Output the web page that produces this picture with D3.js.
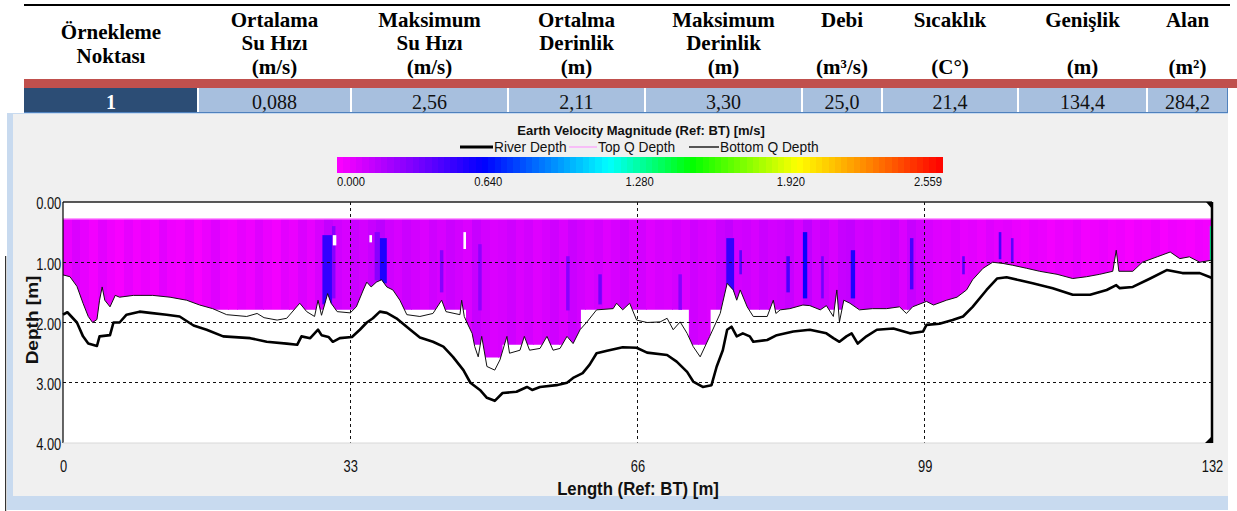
<!DOCTYPE html>
<html><head><meta charset="utf-8">
<script src="https://cdn.jsdelivr.net/npm/d3@7"></script>
<style>body{margin:0;background:#fff;overflow:hidden}svg{display:block}</style>
</head><body><svg id="c" width="1237" height="511"></svg>
<script>
// ---------------- DATA ----------------
const tableHeaders = [
  ["Örnekleme","Noktası"],
  ["Ortalama","Su Hızı","(m/s)"],
  ["Maksimum","Su Hızı","(m/s)"],
  ["Ortalma","Derinlik","(m)"],
  ["Maksimum","Derinlik","(m)"],
  ["Debi","","(m³/s)"],
  ["Sıcaklık","","(C°)"],
  ["Genişlik","","(m)"],
  ["Alan","","(m²)"]
];
const tableValues = ["1","0,088","2,56","2,11","3,30","25,0","21,4","134,4","284,2"];

const chartTitle = "Earth Velocity Magnitude (Ref: BT) [m/s]";
const legendLabels = ["River Depth","Top Q Depth","Bottom Q Depth"];
const xTicks = [0,33,66,99,132];
const yTicks = [0,1,2,3,4];
const colorbarTicks = [0,0.640,1.280,1.920,2.559];
const colorStopValues = [0,0.32,0.62,1.15,1.5,1.95,2.2,2.559];
const colorStopColors = ["#ff00ff","#8000ff","#0000ff","#00ffff","#00ff00","#ffff00","#ff9900","#ff0000"];

// River depth (thick line) [length m, depth m]
const riverDepth = [[0,1.87],[0.5,1.83],[1.6,2.0],[2.3,2.23],[2.9,2.35],[3.9,2.39],[4.2,2.23],[5.4,2.21],[5.8,2.0],[6.5,2.0],[7.3,1.87],[8.8,1.82],[10,1.84],[11.9,1.87],[13.4,1.9],[15,2.05],[16.5,2.12],[18.4,2.23],[21.5,2.26],[23.4,2.32],[25.7,2.35],[26.9,2.37],[27.4,2.23],[28.4,2.26],[29.3,2.12],[29.7,2.21],[30.5,2.24],[31,2.32],[31.8,2.26],[33.2,2.24],[34.1,2.12],[34.9,2.0],[35.6,1.93],[36.4,1.82],[37.2,1.84],[38.3,1.93],[39.9,2.12],[41,2.25],[42.5,2.32],[43.7,2.4],[44.8,2.57],[46,2.79],[46.8,3.0],[47.9,3.12],[48.7,3.25],[49.6,3.3],[50.5,3.17],[52.1,3.15],[53.3,3.07],[53.9,3.12],[54.8,3.07],[56.7,3.04],[57.9,3.0],[58.6,2.92],[59.7,2.84],[60.5,2.7],[61.3,2.51],[62.5,2.47],[64.3,2.41],[65.9,2.42],[67.1,2.5],[69.4,2.54],[70.5,2.65],[71.7,2.82],[72.4,2.98],[73.5,3.07],[74.5,3.04],[75.1,2.73],[75.8,2.46],[76.3,2.12],[76.8,2.07],[77.4,2.23],[78.1,2.18],[78.9,2.23],[79.3,2.32],[80.9,2.29],[82,2.21],[83.9,2.15],[85.8,2.12],[87.7,2.18],[88.5,2.26],[89.2,2.32],[90,2.23],[90.6,2.18],[91.3,2.35],[92.3,2.23],[93.5,2.12],[95.4,2.1],[97.3,2.18],[98.8,2.15],[99.2,2.04],[100.7,2.02],[102.2,1.96],[103.4,1.9],[104.5,1.74],[106.1,1.46],[107.3,1.27],[108.4,1.25],[109.9,1.3],[111.4,1.35],[113.7,1.43],[116,1.54],[118,1.54],[119.9,1.46],[121,1.38],[121.4,1.43],[122.9,1.41],[124.9,1.27],[126.8,1.13],[128.6,1.18],[130.6,1.18],[131.8,1.25],[132,1.26]];

// Bottom Q depth (thin line)
const bottomQDepth = [[0,1.21],[0.8,1.24],[1.6,1.4],[2.3,1.68],[2.9,1.9],[3.4,2.0],[3.9,1.95],[4.2,1.63],[4.5,1.41],[4.8,1.63],[5.4,1.74],[6.0,1.55],[6.5,1.58],[8.1,1.55],[10.3,1.55],[12.3,1.58],[14.2,1.63],[15.7,1.71],[17.2,1.77],[18.8,1.87],[21.1,1.9],[22.3,1.85],[23.1,1.92],[24.6,1.96],[25.7,1.93],[27.2,1.68],[28.0,1.82],[28.9,1.9],[29.3,1.63],[29.7,1.88],[30.1,1.68],[30.4,1.52],[30.8,1.68],[31.5,1.82],[33.0,1.84],[33.7,1.74],[34.5,1.46],[34.9,1.33],[35.4,1.41],[36.0,1.33],[36.6,1.29],[37.2,1.41],[37.9,1.46],[38.7,1.63],[39.5,1.87],[41.0,1.9],[42.5,1.85],[43.5,1.63],[44.0,1.82],[45.6,1.87],[45.8,1.63],[46.1,1.9],[46.4,2.0],[47.0,2.18],[47.3,2.4],[47.7,2.57],[48.1,2.23],[48.7,2.73],[49.6,2.79],[50.2,2.62],[51.0,2.23],[51.3,2.51],[52.5,2.46],[53.0,2.23],[53.6,2.46],[54.8,2.43],[55.6,2.23],[56.3,2.46],[57.1,2.43],[57.9,2.23],[58.6,2.35],[59.4,2.12],[60.2,1.99],[61.3,1.79],[63.2,1.77],[63.6,1.68],[64.3,1.79],[65.1,1.68],[65.9,1.96],[67.1,2.0],[68.6,1.99],[69.4,1.93],[70.1,2.12],[70.9,1.99],[71.7,2.18],[72.4,2.4],[73.2,2.57],[74.3,2.23],[75.5,1.85],[76.3,1.35],[77.0,1.46],[77.4,1.63],[77.8,1.46],[78.6,1.74],[79.3,1.9],[80.9,1.9],[81.6,1.63],[81.9,1.85],[82.4,1.79],[83.5,1.77],[85.0,1.71],[85.8,1.72],[87.0,1.79],[87.7,1.72],[88.5,1.9],[88.9,1.46],[89.2,1.99],[89.7,1.63],[90.4,1.68],[91.5,1.79],[93.0,1.77],[94.6,1.77],[96.1,1.74],[96.9,1.85],[97.6,1.74],[99.2,1.65],[100.0,1.71],[101.5,1.63],[102.7,1.58],[103.8,1.46],[104.5,1.29],[105.7,1.1],[106.8,1.0],[108.0,1.02],[109.1,1.05],[110.7,1.1],[112.2,1.15],[114.2,1.2],[116.0,1.27],[117.6,1.24],[119.1,1.2],[120.6,1.15],[121.0,0.8],[121.3,1.15],[122.9,1.15],[124.0,1.0],[125.7,0.91],[127.2,0.83],[128.3,0.94],[129.4,0.91],[130.6,1.0],[131.8,0.97],[132,0.97]];

// Top Q depth (pink line)
const topQDepth = [[0,0.28],[132,0.28]];
// First measured bin depth
const firstBinDepth = 0.29;
// Deepest valid bin (step) [from length, depth]
const lastBinDepth = [[0,2.02],[4.3,1.79],[46.3,2.37],[48.2,2.58],[50.5,2.37],[59.5,1.79],[71.9,2.37],[74.4,1.79],[132,1.79]];

// Velocity per 1 m ensemble column (m/s)
const columnVelocity = [
  0.05,0.09,0.06,0.03,0.07,0.04,0.02,0.06,0.03,0.05,
  0.03,0.07,0.04,0.03,0.06,0.02,0.05,0.08,0.04,0.03,
  0.06,0.04,0.08,0.05,0.03,0.07,0.05,0.09,0.06,0.10,
  0.15,0.12,0.10,0.13,0.11,0.14,0.17,0.12,0.10,0.13,
  0.11,0.09,0.12,0.10,0.13,0.11,0.09,0.14,0.11,0.09,
  0.10,0.12,0.09,0.11,0.08,0.10,0.12,0.09,0.13,0.11,
  0.09,0.11,0.08,0.10,0.12,0.09,0.11,0.08,0.10,0.09,
  0.11,0.09,0.12,0.10,0.09,0.13,0.15,0.11,0.12,0.10,
  0.13,0.11,0.12,0.14,0.10,0.16,0.11,0.13,0.10,0.14,
  0.15,0.11,0.12,0.10,0.11,0.13,0.09,0.14,0.11,0.10,
  0.08,0.07,0.09,0.06,0.07,0.05,0.08,0.06,0.07,0.05,
  0.04,0.06,0.05,0.03,0.05,0.04,0.06,0.03,0.04,0.05,
  0.03,0.04,0.02,0.04,0.03,0.05,0.02,0.04,0.03,0.02,0.04,0.03
];
// Faster narrow streaks [x0, x1, depth0, depth1, velocity]
const velocityStreaks = [
  [29.8,30.9,0.55,1.7,0.5],[30.9,31.3,0.4,1.6,0.3],[35.8,36.4,0.5,1.3,0.3],[36.4,37.2,0.6,1.35,0.55],
  [43.3,43.7,0.8,1.5,0.3],[47.7,48.1,0.7,1.8,0.28],[57.8,58.2,0.9,1.8,0.3],[61.5,61.9,1.2,1.7,0.35],
  [70.7,71.1,1.2,1.8,0.3],[76.2,77.1,0.6,1.6,0.5],[77.7,78.0,0.8,1.2,0.4],[83.1,83.5,0.9,1.5,0.45],
  [85.0,85.5,0.5,1.6,0.6],[87.1,87.4,0.9,1.6,0.35],[90.5,91.0,0.8,1.6,0.55],[97.3,97.7,0.6,1.45,0.45],
  [103.3,103.6,0.9,1.2,0.4],[107.5,107.8,0.5,0.95,0.45],[108.9,109.2,0.6,1.0,0.4],[131.75,132,0.4,1.0,1.3]
];
// No-data cells [x0, x1, depth0, depth1]
const noDataCells = [[31.0,31.4,0.55,0.72],[35.2,35.5,0.55,0.67],[46.0,46.3,0.5,0.78]];

// ---------------- DRAWING ----------------
const svg = d3.select("#c");
const serif = "'Liberation Serif','Times New Roman',serif";
const sans = "'Liberation Sans',Arial,sans-serif";

function ctext(parent, tx, ty, k, str){
  return parent.append("text").attr("transform",`translate(${tx},${ty}) scale(${k},1)`).attr("font-family",sans).attr("fill","#111").text(str);
}

// ---- table ----
const colEdges = [24,198,351,508,645,802,882,1018,1147,1228];
const colCenter = i => (colEdges[i]+colEdges[i+1])/2;
svg.append("rect").attr("x",24).attr("y",4).attr("width",1206).attr("height",2).attr("fill","#000");
const hdr = svg.append("g").attr("font-family",serif).attr("font-weight","bold").attr("font-size",21).attr("text-anchor","middle").attr("fill","#000");
tableHeaders.forEach((lines,i)=>{
  const base = lines.length===2 ? [39,63] : [27,50,74];
  lines.forEach((t,j)=>{ if(t) hdr.append("text").attr("x",colCenter(i)).attr("y",base[j]).text(t); });
});
svg.append("rect").attr("x",24).attr("y",79).attr("width",1213).attr("height",9).attr("fill","#c0504d");
svg.append("rect").attr("x",24).attr("y",88).attr("width",1204).attr("height",25).attr("fill","#4f81bd");
tableValues.forEach((v,i)=>{
  svg.append("rect").attr("x",colEdges[i]+(i?1:0)).attr("y",88).attr("width",colEdges[i+1]-colEdges[i]-(i?1:0)-1).attr("height",24)
    .attr("fill", i===0 ? "#2c4d75" : "#a7bfde");
  svg.append("text").attr("x",colCenter(i)).attr("y",109).attr("text-anchor","middle")
    .attr("font-family",serif).attr("font-size",20).attr("font-weight", i===0?"bold":"normal")
    .attr("fill", i===0 ? "#fff" : "#111").text(v);
});
colEdges.slice(1,-1).forEach(e=>svg.append("rect").attr("x",e-1).attr("y",88).attr("width",2).attr("height",24).attr("fill","#fff"));

// ---- chart panel ----
svg.append("rect").attr("x",7).attr("y",113).attr("width",1221).attr("height",397).attr("fill","#c8daef");
svg.append("rect").attr("x",13).attr("y",114).attr("width",1215).attr("height",382).attr("fill","#f0f0f0");
svg.append("rect").attr("x",1228).attr("y",113).attr("width",9).attr("height",398).attr("fill","#fff");
svg.append("rect").attr("x",5).attr("y",256).attr("width",1.2).attr("height",255).attr("fill","#333");

const x = d3.scaleLinear().domain([0,132]).range([63,1212]);
const y = d3.scaleLinear().domain([0,4]).range([202,443]);
const color = d3.scaleLinear().domain(colorStopValues).range(colorStopColors).clamp(true);

// title + legend
ctext(svg,641,135,0.97,chartTitle).attr("text-anchor","middle").attr("font-weight","bold").attr("font-size",13.4);
const legendLayout = [[460,493,494],[569,597,598],[689,719,720]];
const legendStroke = [["#000",3],["#ff8cff",1],["#000",1.3]];
legendLabels.forEach((l,i)=>{
  const [a,b,t] = legendLayout[i];
  svg.append("line").attr("x1",a).attr("x2",b).attr("y1",147).attr("y2",147).attr("stroke",legendStroke[i][0]).attr("stroke-width",legendStroke[i][1]);
  ctext(svg,t,152,0.95,l).attr("font-size",14.5);
});
// colorbar
const cbx = d3.scaleLinear().domain([0,2.559]).range([337,942]);
const nSteps = 96;
const steps = d3.range(nSteps).map(i=>i*2.559/nSteps);
svg.append("g").selectAll("rect").data(steps).join("rect")
  .attr("x",d=>cbx(d)).attr("width",605/nSteps+0.6).attr("y",157).attr("height",16)
  .attr("fill",d=>color(d+1.2795/nSteps)).attr("shape-rendering","crispEdges");
colorbarTicks.forEach((v,i)=>{
  ctext(svg,cbx(v),186,0.9,v.toFixed(3))
    .attr("text-anchor", i===0?"start":(i===colorbarTicks.length-1?"end":"middle"))
    .attr("font-size",12.5);
});

// plot area
svg.append("rect").attr("x",x(0)).attr("y",y(0)).attr("width",x(132)-x(0)).attr("height",y(4)-y(0)).attr("fill","#fff");

const defs = svg.append("defs");
defs.append("clipPath").attr("id","cq").append("path")
  .attr("d", d3.area().x(d=>x(d[0])).y0(y(0)).y1(d=>y(d[1]))(bottomQDepth));
defs.append("clipPath").attr("id","cf").append("path")
  .attr("d", d3.area().x(d=>x(d[0])).y0(y(0)).y1(d=>y(d[1])).curve(d3.curveStepAfter)(lastBinDepth));

const cells = svg.append("g").attr("clip-path","url(#cq)").append("g").attr("clip-path","url(#cf)");
cells.selectAll("rect.col").data(columnVelocity).join("rect").attr("class","col")
  .attr("x",(d,i)=>x(i)).attr("width",(d,i)=>x(i+1)-x(i)+0.5)
  .attr("y",y(firstBinDepth)).attr("height",y(3.5)-y(firstBinDepth))
  .attr("fill",d=>color(d)).attr("shape-rendering","crispEdges");
cells.selectAll("rect.st").data(velocityStreaks).join("rect").attr("class","st")
  .attr("x",d=>x(d[0])).attr("width",d=>x(d[1])-x(d[0]))
  .attr("y",d=>y(d[2])).attr("height",d=>y(d[3])-y(d[2]))
  .attr("fill",d=>color(d[4]));
cells.selectAll("rect.nd").data(noDataCells).join("rect").attr("class","nd")
  .attr("x",d=>x(d[0])).attr("width",d=>x(d[1])-x(d[0]))
  .attr("y",d=>y(d[2])).attr("height",d=>y(d[3])-y(d[2])).attr("fill","#fff");

// grid
const grid = svg.append("g").attr("stroke","#111").attr("stroke-width",1).attr("stroke-dasharray","3,3").attr("shape-rendering","crispEdges");
yTicks.filter(t=>t>0&&t<4).forEach(t=>grid.append("line").attr("x1",x(0)).attr("x2",x(132)).attr("y1",y(t)).attr("y2",y(t)));
xTicks.filter(t=>t>0&&t<132).forEach(t=>grid.append("line").attr("x1",x(t)).attr("x2",x(t)).attr("y1",y(0)).attr("y2",y(4)));

// lines
const line = d3.line().x(d=>x(d[0])).y(d=>y(d[1]));
svg.append("path").attr("d",line(topQDepth)).attr("fill","none").attr("stroke","#ff9cff").attr("stroke-width",1.5);
svg.append("path").attr("d",line(bottomQDepth)).attr("fill","none").attr("stroke","#111").attr("stroke-width",1);
svg.append("path").attr("d",line(riverDepth)).attr("fill","none").attr("stroke","#000").attr("stroke-width",2.6).attr("stroke-linejoin","round");

// frame
svg.append("line").attr("x1",x(0)).attr("x2",x(132)).attr("y1",y(0)).attr("y2",y(0)).attr("stroke","#222").attr("stroke-width",1.5);
svg.append("line").attr("x1",x(0)).attr("x2",x(0)).attr("y1",y(0)).attr("y2",y(4)).attr("stroke","#000").attr("stroke-width",1.2);
svg.append("line").attr("x1",x(0)).attr("x2",x(132)).attr("y1",y(4)).attr("y2",y(4)).attr("stroke","#d8d8d8").attr("stroke-width",1);
svg.append("line").attr("x1",x(132)).attr("x2",x(132)).attr("y1",y(0)).attr("y2",y(4)).attr("stroke","#000").attr("stroke-width",2.5);
svg.append("path").attr("d",`M${x(132)-6},${y(0)}L${x(132)+1},${y(0)}L${x(132)+1},${y(0)+8}Z`).attr("fill","#000");
svg.append("path").attr("d",`M${x(132)-7},${y(4)}L${x(132)+1},${y(4)}L${x(132)+1},${y(4)-8}Z`).attr("fill","#000");

// axes
const ya = svg.append("g").attr("transform",`translate(${x(0)-1},0)`)
  .call(d3.axisLeft(y).tickValues(yTicks).tickFormat(d3.format(".2f")).tickSize(0).tickPadding(1));
const xa = svg.append("g").attr("transform",`translate(0,${y(4)})`)
  .call(d3.axisBottom(x).tickValues(xTicks).tickFormat(d3.format("d")).tickSize(0).tickPadding(17));
[ya,xa].forEach(a=>{ a.select(".domain").remove();
  a.selectAll("text").attr("font-family",sans).attr("font-size",16.5).attr("fill","#111").attr("transform","scale(0.78,1)"); });
ya.selectAll("text").attr("dy","0.42em");

ctext(svg,638,495,0.93,"Length (Ref: BT) [m]").attr("text-anchor","middle").attr("font-weight","bold").attr("font-size",18);
svg.append("text").attr("transform","translate(38,320) rotate(-90) scale(1.12,1)").attr("text-anchor","middle").attr("font-family",sans)
  .attr("font-weight","bold").attr("font-size",17).attr("fill","#111").text("Depth [m]");
</script></body></html>
